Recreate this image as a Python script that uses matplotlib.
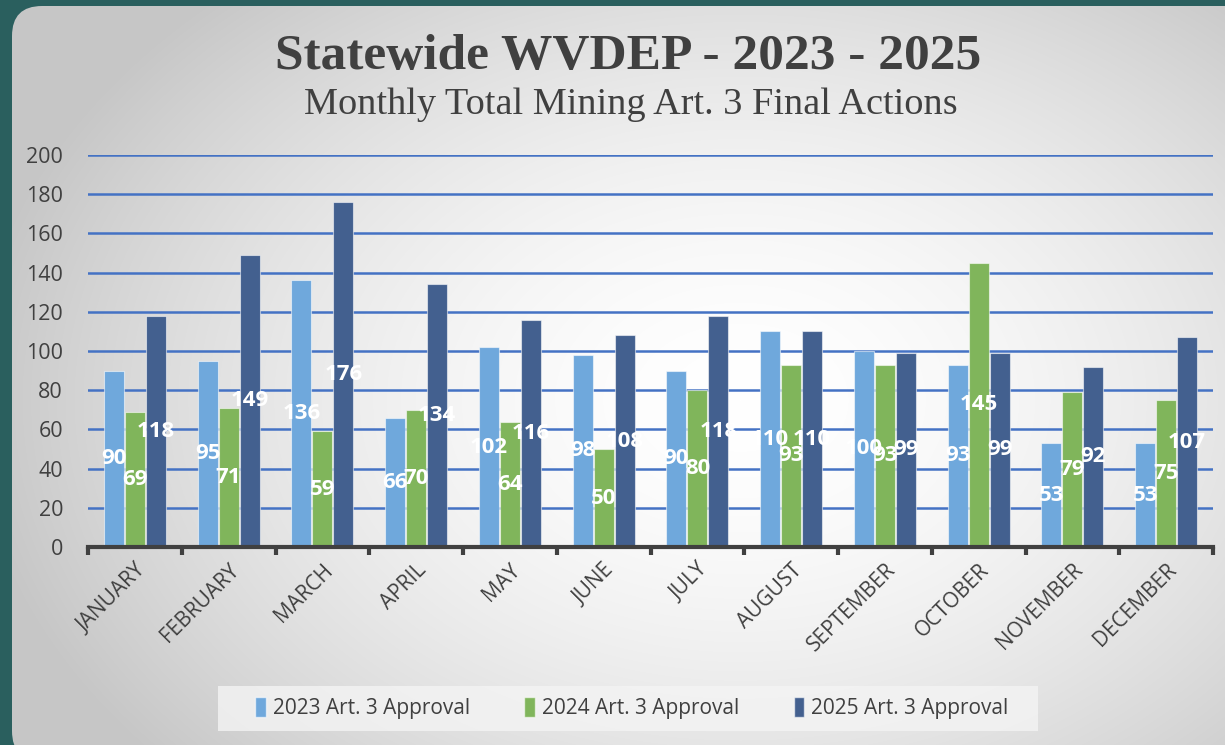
import numpy as np
import matplotlib
matplotlib.use("Agg")
import matplotlib.pyplot as plt
from matplotlib.patches import FancyBboxPatch, Patch

months = ["JANUARY", "FEBRUARY", "MARCH", "APRIL", "MAY", "JUNE", "JULY",
          "AUGUST", "SEPTEMBER", "OCTOBER", "NOVEMBER", "DECEMBER"]
approvals_2023 = [90, 95, 136, 66, 102, 98, 90, 110, 100, 93, 53, 53]
approvals_2024 = [69, 71, 59, 70, 64, 50, 80, 93, 93, 145, 79, 75]
approvals_2025 = [118, 149, 176, 134, 116, 108, 118, 110, 99, 99, 92, 107]
series_names = ["2023 Art. 3 Approval", "2024 Art. 3 Approval", "2025 Art. 3 Approval"]
colors = ["#6fa8dc", "#80b55b", "#43608f"]

W, H = 1225, 745
fig = plt.figure(figsize=(W / 100, H / 100), dpi=100)
fig.patch.set_facecolor("#2a5f5e")

# background panel with soft radial gradient
bg = fig.add_axes([0, 0, 1, 1])
bg.set_xlim(0, W)
bg.set_ylim(H, 0)
bg.axis("off")
yy, xx = np.mgrid[0:H, 0:W]
r = np.sqrt(((xx - 740) / 660.0) ** 2 + ((yy - 400) / 470.0) ** 2)
shade = np.clip(1.0 - 0.17 * r ** 1.7, 0.78, 1.0)
grad = np.dstack([shade, shade, shade])
im = bg.imshow(grad, extent=(0, W, H, 0), interpolation="bilinear", zorder=0)
panel = FancyBboxPatch((12, 6), W + 60, H + 10,
                       boxstyle="round,pad=0,rounding_size=30",
                       transform=bg.transData, facecolor="none", edgecolor="none")
bg.add_patch(panel)
im.set_clip_path(panel)

# legend backdrop
bg.add_patch(plt.Rectangle((218, 686), 820, 45, facecolor="#f4f4f4",
                           edgecolor="none", alpha=0.8, zorder=1))

# titles
fig.text(628 / W, 1 - 57 / H, "Statewide WVDEP - 2023 - 2025", ha="center", va="center",
         fontsize=37, fontweight="bold", family="Liberation Serif", color="#404040")
fig.text(631 / W, 1 - 105 / H, "Monthly Total Mining Art. 3 Final Actions", ha="center",
         va="center", fontsize=27.5, family="Liberation Serif", color="#404040")

# main chart
x0, x1, y0, y1 = 88, 1213, 547, 155
ax = fig.add_axes([x0 / W, 1 - y0 / H, (x1 - x0) / W, (y0 - y1) / H])
ax.patch.set_alpha(0)

x = np.arange(len(months))
bw = 0.214
step = 0.224
for i, (vals, c) in enumerate(zip([approvals_2023, approvals_2024, approvals_2025], colors)):
    pos = x + (i - 1) * step
    bars = ax.bar(pos, vals, width=bw, color=c, edgecolor=(1, 1, 1, 0.55),
                  linewidth=0.8, zorder=3)
    for b, v in zip(bars, vals):
        ax.text(b.get_x() + b.get_width() / 2, v / 2, str(v), ha="center", va="center",
                color="white", fontsize=16, fontweight="bold", family="Open Sans", zorder=4)

ax.set_xlim(-0.5, len(months) - 0.5)
ax.set_ylim(0, 200)
ax.set_yticks(range(0, 201, 20))
ax.yaxis.grid(True, color="#4472c4", linewidth=1.8, zorder=1)
ax.tick_params(axis="y", length=0, pad=18, labelsize=15.5, labelcolor="#404040")
for lab in ax.get_yticklabels():
    lab.set_family("Open Sans")

ax.set_xticks(np.arange(-0.5, len(months)), labels=[])
ax.set_xticks(x, labels=months, minor=True)
ax.tick_params(axis="x", which="major", length=6, width=3, color="#404040", direction="out")
ax.tick_params(axis="x", which="minor", length=0, pad=9, labelsize=15, labelcolor="#404040")
for lab in ax.get_xticklabels(minor=True):
    lab.set_rotation(45)
    lab.set_ha("right")
    lab.set_rotation_mode("anchor")
    lab.set_family("Open Sans")

for s in ["top", "right", "left"]:
    ax.spines[s].set_visible(False)
ax.spines["bottom"].set_linewidth(3)
ax.spines["bottom"].set_color("#404040")
ax.spines["bottom"].set_zorder(5)

handles = [Patch(facecolor=c, edgecolor=(1, 1, 1, 0.6)) for c in colors]
fig.legend(handles, series_names, loc="center", bbox_to_anchor=(632 / W, 1 - 708 / H),
           ncol=3, frameon=False, handlelength=0.5, handleheight=1.1, handletextpad=0.35,
           columnspacing=2.6, prop={"family": "Open Sans", "size": 15}, labelcolor="#404040")

fig.savefig("out.png", dpi=100, facecolor=fig.get_facecolor())
